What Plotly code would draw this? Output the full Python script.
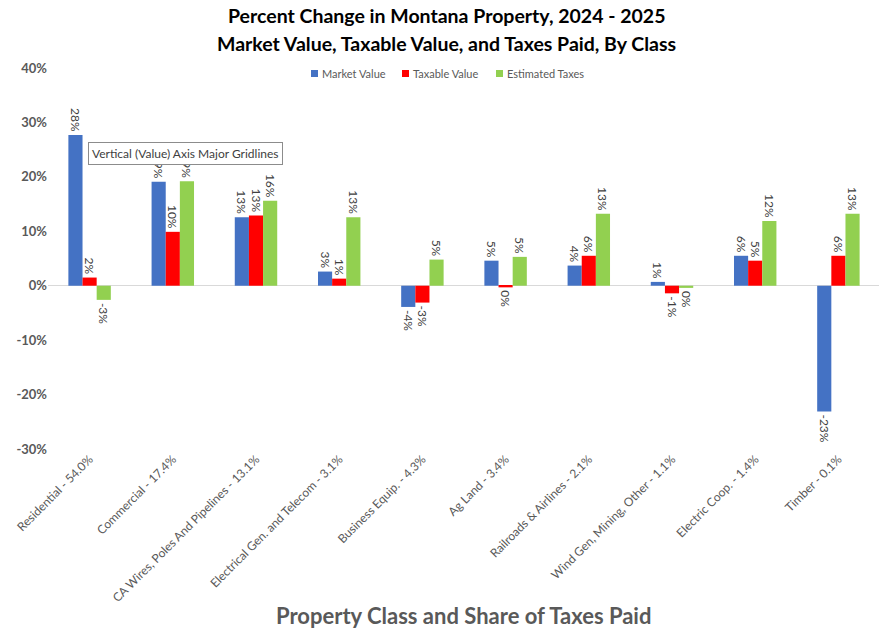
import plotly.graph_objects as go

categories = [
    "Residential - 54.0%",
    "Commercial - 17.4%",
    "CA Wires, Poles And Pipelines - 13.1%",
    "Electrical Gen. and Telecom - 3.1%",
    "Business Equip. - 4.3%",
    "Ag Land - 3.4%",
    "Railroads & Airlines - 2.1%",
    "Wind Gen, Mining, Other - 1.1%",
    "Electric Coop. - 1.4%",
    "Timber - 0.1%",
]

market_value = [27.7, 19.1, 12.6, 2.6, -3.9, 4.6, 3.7, 0.7, 5.5, -23.1]
taxable_value = [1.5, 9.9, 12.9, 1.3, -3.1, -0.3, 5.5, -1.4, 4.6, 5.5]
estimated_taxes = [-2.6, 19.2, 15.6, 12.6, 4.8, 5.3, 13.2, -0.4, 11.9, 13.2]

y_ticks = [-30, -20, -10, 0, 10, 20, 30, 40]

series = [
    ("Market Value", market_value, "#4472C4"),
    ("Taxable Value", taxable_value, "#FF0000"),
    ("Estimated Taxes", estimated_taxes, "#92D050"),
]

FONT = "Lato"
# the page puts the figure ~8px in from the corner, so the margins allow for that
SHIFT = 8
PLOT_L, PLOT_T, PLOT_W, PLOT_H = 48, 68, 832, 381


def px_x(x):
    return (x - PLOT_L) / PLOT_W


def px_y(y):
    return (PLOT_T + PLOT_H - y) / PLOT_H


fig = go.Figure()
for name, vals, color in series:
    fig.add_trace(go.Bar(
        name=name,
        x=categories,
        y=vals,
        marker=dict(color=color, line=dict(width=0)),
        text=["%d%%" % round(v) for v in vals],
        textposition="outside",
        textangle=90,
        constraintext="none",
        cliponaxis=False,
        textfont=dict(family=FONT, size=12, color="#404040"),
    ))

fig.update_layout(
    width=887,
    height=641,
    barmode="group",
    bargap=0.49,
    bargroupgap=0,
    paper_bgcolor="white",
    plot_bgcolor="white",
    margin=dict(l=PLOT_L - SHIFT, r=887 - (PLOT_L - SHIFT) - PLOT_W,
                t=PLOT_T - SHIFT, b=641 - (PLOT_T - SHIFT) - PLOT_H,
                autoexpand=False),
    font=dict(family=FONT, color="#595959"),
    showlegend=False,
)

# compact Excel-style legend: small square swatch right next to its label
legend_x = [311, 402, 496]
for (name, _, color), lx in zip(series, legend_x):
    fig.add_shape(
        type="rect",
        xref="paper", yref="paper",
        x0=px_x(lx), x1=px_x(lx + 7),
        y0=px_y(77), y1=px_y(70),
        fillcolor=color, line=dict(width=0),
    )
    fig.add_annotation(
        text=name,
        xref="paper", yref="paper",
        x=px_x(lx + 9), y=px_y(73),
        xanchor="left", yanchor="middle",
        showarrow=False,
        font=dict(family=FONT, size=11, color="#595959"),
    )

fig.update_xaxes(
    tickangle=-45,
    tickfont=dict(family=FONT, size=12, color="#595959"),
    showgrid=False,
    showline=False,
    ticks="",
    automargin=False,
)

fig.update_yaxes(
    range=[-30, 40],
    tickvals=y_ticks,
    ticktext=["%d%%" % v for v in y_ticks],
    tickfont=dict(family=FONT, size=13, color="#595959", weight="bold"),
    showgrid=False,
    zeroline=True,
    zerolinecolor="#D9D9D9",
    zerolinewidth=1,
    showline=False,
    ticks="",
    automargin=False,
)

title_lines = [
    "Percent Change in Montana Property, 2024 - 2025",
    "Market Value, Taxable Value, and Taxes Paid, By Class",
]
for line, ypix in zip(title_lines, [16, 43]):
    fig.add_annotation(
        text=line,
        xref="paper", yref="paper",
        x=px_x(446), y=px_y(ypix),
        xanchor="center", yanchor="middle",
        showarrow=False,
        font=dict(family=FONT, size=19.5, color="black", weight="bold"),
    )

fig.add_annotation(
    text="Property Class and Share of Taxes Paid",
    xref="paper", yref="paper",
    x=px_x(463), y=px_y(615),
    xanchor="center", yanchor="middle",
    showarrow=False,
    font=dict(family=FONT, size=22, color="#595959", weight="bold"),
)

# Excel tooltip captured in the screenshot
fig.add_annotation(
    text="Vertical (Value) Axis Major Gridlines",
    xref="paper", yref="paper",
    x=px_x(88), y=px_y(153),
    xanchor="left", yanchor="middle",
    showarrow=False,
    bgcolor="white",
    bordercolor="#8C8C8C",
    borderwidth=1,
    borderpad=3,
    font=dict(family=FONT, size=12, color="#404040"),
)

fig.write_html("out.html")
